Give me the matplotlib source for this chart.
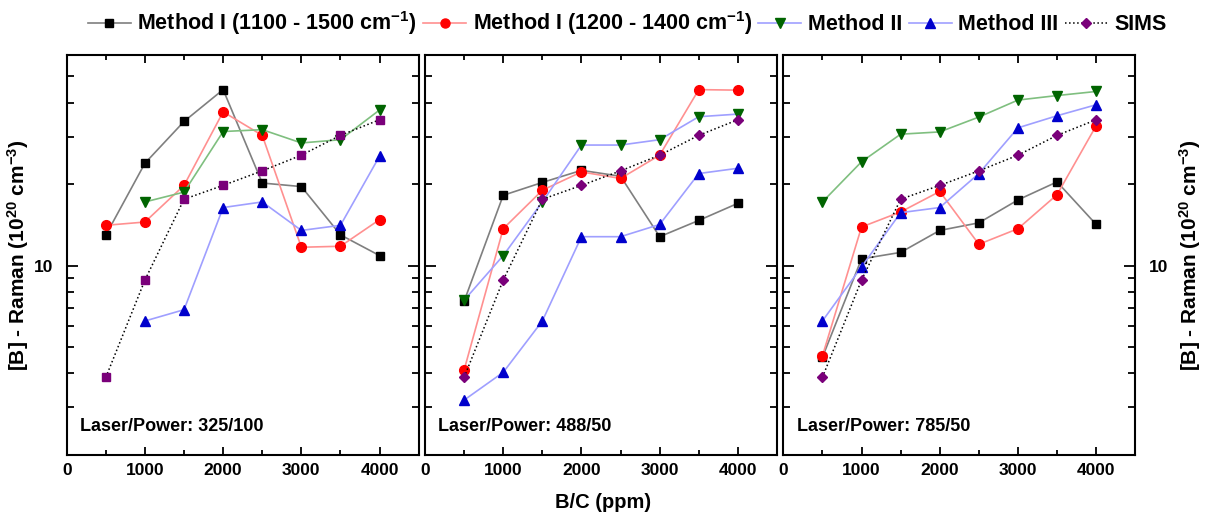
import numpy as np
import matplotlib.pyplot as plt
from matplotlib.ticker import FixedLocator, NullFormatter, FixedFormatter
from matplotlib.lines import Line2D

plt.rcParams['font.family'] = ['Liberation Sans', 'DejaVu Sans']
plt.rcParams['font.weight'] = 'bold'
plt.rcParams['mathtext.fontset'] = 'custom'
plt.rcParams['mathtext.rm'] = 'Liberation Sans:bold'
plt.rcParams['mathtext.bf'] = 'Liberation Sans:bold'
plt.rcParams['mathtext.default'] = 'bf'

bc = [500, 1000, 1500, 2000, 2500, 3000, 3500, 4000]
bc_from1000 = [1000, 1500, 2000, 2500, 3000, 3500, 4000]

panel_labels = ["Laser/Power: 325/100", "Laser/Power: 488/50", "Laser/Power: 785/50"]

sims = [3.87, 8.85, 17.6, 19.8, 22.4, 25.6, 30.3, 34.6]

# panel 325/100
m1a_325 = [12.97, 23.9, 34.1, 44.7, 20.2, 19.6, 13.0, 10.9]
m1b_325 = [14.1, 14.5, 19.8, 37.0, 30.3, 11.7, 11.8, 14.8]
m2_325 = [17.2, 18.7, 31.3, 31.8, 28.4, 29.2, 37.6]
m3_325 = [6.25, 6.88, 16.4, 17.2, 13.5, 14.1, 25.4]

# panel 488/50
m1a_488 = [7.39, 18.2, 20.3, 22.5, 21.4, 12.8, 14.7, 17.0]
m1b_488 = [4.12, 13.7, 19.0, 22.2, 21.0, 25.6, 44.7, 44.5]
m2_488 = [7.46, 10.9, 17.2, 27.9, 27.9, 29.2, 35.5, 36.3]
m3_488 = [3.19, 4.04, 6.25, 12.8, 12.8, 14.2, 21.9, 22.9]

# panel 785/50
m1a_785 = [4.59, 10.6, 11.2, 13.5, 14.4, 17.5, 20.4, 14.2]
m1b_785 = [4.64, 13.9, 15.8, 18.8, 12.0, 13.7, 18.3, 32.9]
m2_785 = [17.2, 24.2, 30.6, 31.2, 35.4, 40.9, 42.5, 44.0]
m3_785 = [6.25, 9.9, 15.7, 16.4, 21.9, 32.3, 35.8, 39.3]

panels = [
    (m1a_325, m1b_325, (bc_from1000, m2_325), (bc_from1000, m3_325), 's'),
    (m1a_488, m1b_488, (bc, m2_488), (bc, m3_488), 'D'),
    (m1a_785, m1b_785, (bc, m2_785), (bc, m3_785), 'D'),
]
m2_line_colors = ['#7fbf7f', '#9f9fff', '#7fbf7f']

fig = plt.figure(figsize=(12.06, 5.15), dpi=100)
lefts = [66.7 / 1206, 425 / 1206, 783.3 / 1206]
w = 352 / 1206
bottom = 60 / 515
h = 400 / 515

ylab = '[B] - Raman (10$^{20}$ cm$^{-3}$)'

for i, (a, b, (x2, m2), (x3, m3), sims_m) in enumerate(panels):
    ax = fig.add_axes([lefts[i], bottom, w, h])
    ax.plot(bc, a, '-', color='#7f7f7f', lw=1.2, marker='s', ms=6.2,
            mfc='black', mec='black', zorder=3)
    ax.plot(bc, b, '-', color='#ff9090', lw=1.2, marker='o', ms=7,
            mfc='#ff0000', mec='#ff0000', zorder=3)
    ax.plot(x2, m2, '-', color=m2_line_colors[i], lw=1.2, marker='v', ms=7.5,
            mfc='#006400', mec='#006400', zorder=3)
    ax.plot(x3, m3, '-', color='#9f9fff', lw=1.2, marker='^', ms=7.5,
            mfc='#0000cc', mec='#0000cc', zorder=3)
    ax.plot(bc, sims, ':', color='black', lw=1.1, marker=sims_m,
            ms=6.2 if sims_m == 's' else 5.5, mfc='#7a007a', mec='#7a007a', zorder=4)

    ax.set_yscale('log')
    ax.set_xlim(0, 4500)
    ax.set_ylim(2, 60)
    ax.xaxis.set_major_locator(FixedLocator([0, 1000, 2000, 3000, 4000]))
    ax.xaxis.set_minor_locator(FixedLocator([500, 1500, 2500, 3500]))
    ax.yaxis.set_major_locator(FixedLocator([10]))
    ax.yaxis.set_minor_locator(FixedLocator([3, 4, 5, 6, 7, 8, 9, 20, 30, 40, 50]))
    ax.yaxis.set_major_formatter(FixedFormatter(['10']))
    ax.yaxis.set_minor_formatter(NullFormatter())

    for s in ax.spines.values():
        s.set_linewidth(1.5)

    ax.tick_params(axis='x', which='major', direction='in', length=6, width=1.3,
                   top=True, labelsize=12.5, pad=6)
    ax.tick_params(axis='x', which='minor', direction='in', length=3.5, width=1.3, top=True)
    ax.tick_params(axis='y', which='minor', direction='in', length=5, width=1.3,
                   left=True, right=True)
    ax.tick_params(axis='y', which='major', direction='in', length=8, width=1.3,
                   left=True, right=True, labelleft=False, labelsize=12.5, pad=10)
    for lbl in ax.get_xticklabels():
        lbl.set_fontweight('bold')

    if i == 0:
        ax.tick_params(axis='y', which='major', labelleft=True)
        ax.set_ylabel(ylab, fontsize=15, fontweight='bold', labelpad=2)
    if i == 2:
        ax.tick_params(axis='y', which='major', labelright=True)
        ax.yaxis.set_label_position('right')
        ax.set_ylabel(ylab, fontsize=15, fontweight='bold', labelpad=6)
    for lbl in ax.get_yticklabels():
        lbl.set_fontweight('bold')

    ax.text(0.038, 0.05, panel_labels[i], transform=ax.transAxes, fontsize=13,
            fontweight='bold', ha='left', va='bottom')

fig.text(0.5, 0.005, 'B/C (ppm)', ha='center', va='bottom', fontsize=14.5, fontweight='bold')

handles = [
    Line2D([], [], color='#7f7f7f', marker='s', mfc='black', mec='black', ms=6, lw=1.2),
    Line2D([], [], color='#ff9090', marker='o', mfc='#ff0000', mec='#ff0000', ms=6.5, lw=1.2),
    Line2D([], [], color='#9f9fff', marker='v', mfc='#006400', mec='#006400', ms=7, lw=1.2),
    Line2D([], [], color='#9f9fff', marker='^', mfc='#0000cc', mec='#0000cc', ms=7, lw=1.2),
    Line2D([], [], color='black', ls=':', marker='D', mfc='#7a007a', mec='#7a007a', ms=5.5, lw=1.1),
]
names = ['Method I (1100 - 1500 cm$^{-1}$)', 'Method I (1200 - 1400 cm$^{-1}$)',
         'Method II', 'Method III', 'SIMS']
fig.legend(handles, names, loc='center', bbox_to_anchor=(0.52, 0.955), ncol=5,
           frameon=False, prop={'weight': 'bold', 'size': 15.5}, handlelength=2.0,
           handletextpad=0.3, columnspacing=0.3, borderaxespad=0)

fig.savefig('out.png', dpi=100)
